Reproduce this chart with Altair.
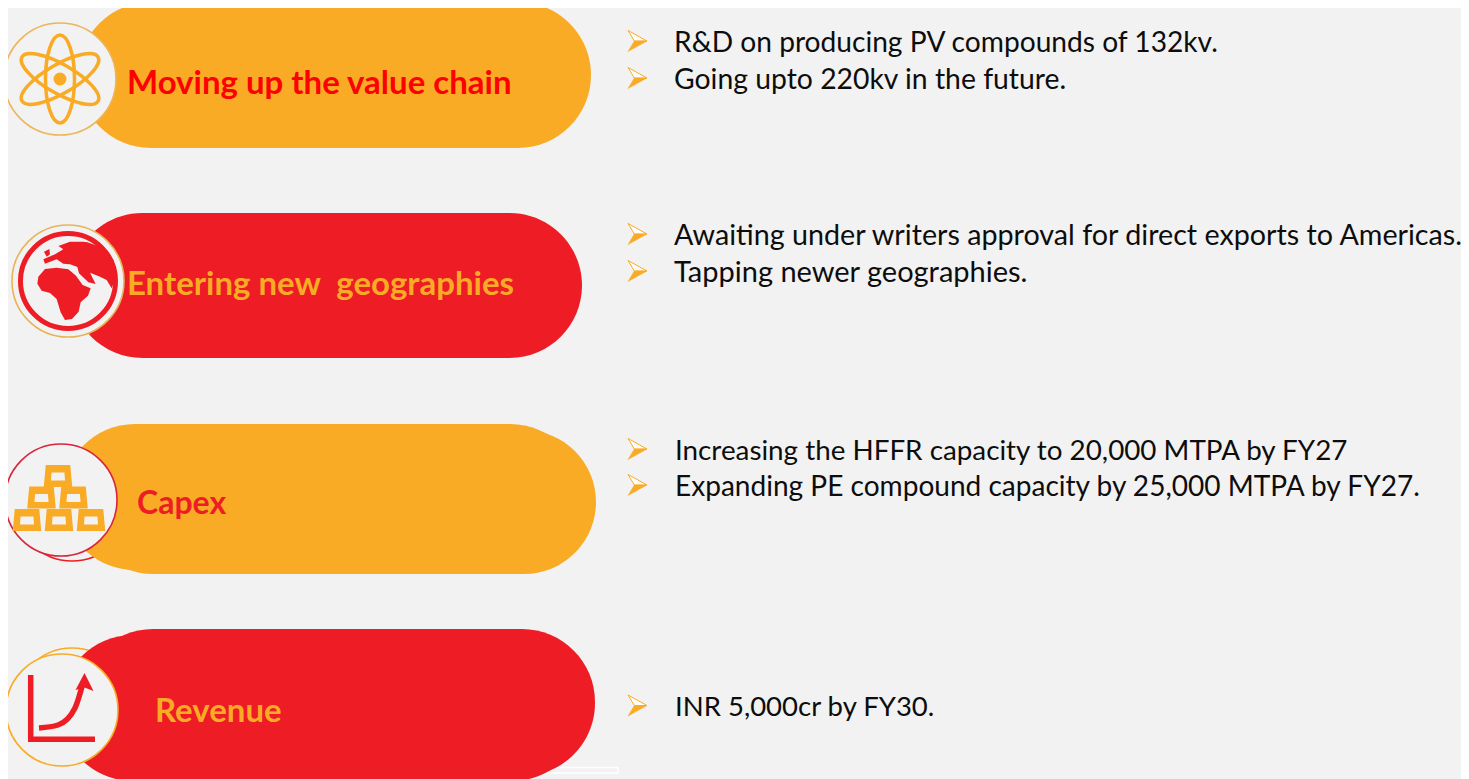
import altair as alt
import pandas as pd

# ---- content ----
TITLES = ["Moving up the value chain", "Entering new\u00a0 geographies", "Capex", "Revenue"]
BULLETS = [
    "R&D on producing PV compounds of 132kv.",
    "Going upto 220kv in the future.",
    "Awaiting under writers approval for direct exports to Americas.",
    "Tapping newer geographies.",
    "Increasing the HFFR capacity to 20,000 MTPA by FY27",
    "Expanding PE compound capacity by 25,000 MTPA by FY27.",
    "INR 5,000cr by FY30.",
]

# ---- layout (separate from the content above) ----
ORANGE, RED, BG = "#F9AB25", "#EE1C25", "#F2F2F2"
TITLE_X = [127, 127, 137, 155]
TITLE_Y = [94, 295, 514, 722]
TITLE_FS = [33, 33, 32, 33]
TITLE_COLOR = ["#FF0000", ORANGE, RED, ORANGE]
BULLET_TEXT_X = [674, 674, 674, 674, 675, 675, 675]
BULLET_Y = [52, 89, 245, 282, 460, 496, 716]
BULLET_FS = [28.15, 28.35, 28.7, 29, 27.8, 28.05, 27.5]
ARROW_Y = [41, 78, 234, 271, 449, 485, 705.5]
PILL_X = [78, 70, 62, 81, 60, 80]
PILL_X2 = [591, 582, 583, 596, 585, 595]
PILL_Y = [2, 213, 424, 430, 635, 629]
PILL_Y2 = [148, 358, 570, 574, 781, 776]
PILL_C = [ORANGE, RED, ORANGE, ORANGE, RED, RED]

X = alt.Scale(domain=[8, 1461], nice=False, zero=False)
Y = alt.Scale(domain=[779, 8], nice=False, zero=False)


def sym(xs, ys, sizes, shape, angles=None, **mark):
    d = pd.DataFrame({"x": xs, "y": ys, "s": [v * v for v in sizes]})
    enc = dict(
        x=alt.X("x:Q", scale=X, axis=None),
        y=alt.Y("y:Q", scale=Y, axis=None),
        size=alt.Size("s:Q", scale=None, legend=None),
    )
    if angles is not None:
        d["a"] = angles
        enc["angle"] = alt.Angle("a:Q", scale=None)
    return alt.Chart(d).mark_point(shape=shape, opacity=1, **mark).encode(**enc)


def poly(verts, cx, cy, ext):
    """closed path from picture-space vertices, normalised about (cx, cy)"""
    pts = [f"{(a - cx) / (ext / 2):.3f},{(b - cy) / (ext / 2):.3f}" for a, b in verts]
    return "M" + " L".join(pts) + " Z"


def line(xs, ys, color, width, interp="linear"):
    d = pd.DataFrame({"x": xs, "y": ys, "o": range(len(xs))})
    return alt.Chart(d).mark_line(color=color, strokeWidth=width, interpolate=interp, strokeCap="butt").encode(
        x=alt.X("x:Q", scale=X, axis=None), y=alt.Y("y:Q", scale=Y, axis=None), order="o:Q")


pills = alt.Chart(pd.DataFrame({"x": PILL_X, "x2": PILL_X2, "y": PILL_Y, "y2": PILL_Y2, "c": PILL_C})).mark_rect(
    cornerRadius=73).encode(
    x=alt.X("x:Q", scale=X, axis=None), x2="x2:Q",
    y=alt.Y("y:Q", scale=Y, axis=None), y2="y2:Q",
    color=alt.Color("c:N", scale=None, legend=None))

ring_kw = dict(filled=True, fill=BG, strokeWidth=1.6)
back = [
    sym([72], [505], [112], "circle", filled=False, stroke=RED, strokeWidth=1.5),
    sym([72], [704], [112], "circle", filled=False, stroke=ORANGE, strokeWidth=1.5),
]
circles = [
    sym([60], [79], [112], "circle", stroke="#EDB45A", **ring_kw),
    sym([68], [281], [112], "circle", stroke="#E9B355", **ring_kw),
    sym([61], [500], [112], "circle", stroke="#D8243C", **ring_kw),
    sym([62], [710], [112], "circle", stroke=ORANGE, **ring_kw),
]

# atom icon
ELLIPSE = "M-1,0 A1,0.33 0 1 0 1,0 A1,0.33 0 1 0 -1,0 Z"
atom = [
    sym([60, 60, 60], [79, 79, 79], [88, 88, 88], ELLIPSE, angles=[90, 30, 150],
        filled=False, stroke=ORANGE, strokeWidth=3.5),
    sym([60], [79], [13], "circle", filled=True, fill=ORANGE, strokeWidth=0),
]

# globe icon
AFRICA = [(115, 215), (135, 192), (170, 188), (205, 193), (228, 212), (248, 240), (272, 250), (264, 272),
          (242, 292), (236, 320), (216, 342), (195, 345), (182, 322), (170, 282), (150, 264), (125, 257), (112, 236)]
EURASIA = [(262, 112), (300, 125), (340, 165), (347, 220), (335, 250), (320, 225), (300, 215), (270, 203),
           (287, 237), (265, 232), (237, 205), (232, 186), (210, 178), (190, 176), (170, 163), (135, 176),
           (130, 163), (165, 148), (190, 133), (175, 123), (210, 110), (250, 110)]
ISLE = [(132, 140), (148, 132), (150, 148), (140, 155)]
to_px = lambda v: [(a / 3, 205 + b / 3) for a, b in v]
GEXT = 100
globe = [sym([68], [281], [95], "circle", filled=False, stroke=RED, strokeWidth=5)]
for shape in (AFRICA, EURASIA, ISLE):
    globe.append(sym([68], [281], [GEXT], poly(to_px(shape), 68, 281, GEXT), filled=True, fill=RED, strokeWidth=0))

# gold bars icon
BAR = "M-0.86,-0.78 L0.86,-0.78 L1,0.78 L-1,0.78 Z"
BARS_X = [58, 41.5, 73.5, 27, 59, 91]
BARS_Y = [476, 497.5, 497.5, 520, 520, 520]
gold = [
    sym(BARS_X, BARS_Y, [28.5] * 6, BAR, filled=True, fill=ORANGE, strokeWidth=0),
    sym(BARS_X, [v + 0.5 for v in BARS_Y], [14] * 6,
        "M-0.92,-0.58 L0.92,-0.58 L1,0.58 L-1,0.58 Z", filled=True, fill=BG, strokeWidth=0),
]

# growth icon
growth = [
    line([30.7, 30.7], [675, 742], RED, 5.5),
    line([28, 95], [739.3, 739.3], RED, 5.5),
    line([39, 58, 75, 83], [728, 725, 708, 683], RED, 5.5, "monotone"),
    sym([84.5], [682], [18], "M-1,0.9 L0,-1 L1,1 L0,0.6 Z", filled=True, fill=RED, strokeWidth=0),
]

# arrow bullets
UP = "M-0.9,-1 L0.9,0 L-0.3,0 Z"
DOWN = "M-0.9,1 L0.9,0 L-0.3,0 Z"
AX = [637.5] * len(ARROW_Y)
arrows = [
    sym(AX, ARROW_Y, [21] * 7, UP, filled=True, fill="#FFFFFF", stroke=ORANGE, strokeWidth=1),
    sym(AX, ARROW_Y, [21] * 7, DOWN, filled=True, fill=ORANGE, stroke=ORANGE, strokeWidth=0.5),
]

titles = alt.Chart(pd.DataFrame({"x": TITLE_X, "y": TITLE_Y, "t": TITLES, "c": TITLE_COLOR, "f": TITLE_FS})).mark_text(
    align="left", baseline="alphabetic", font="Lato", fontWeight="bold").encode(
    x=alt.X("x:Q", scale=X, axis=None), y=alt.Y("y:Q", scale=Y, axis=None), text="t:N",
    size=alt.Size("f:Q", scale=None, legend=None),
    color=alt.Color("c:N", scale=None, legend=None))

body = alt.Chart(pd.DataFrame({"x": BULLET_TEXT_X, "y": BULLET_Y, "t": BULLETS, "f": BULLET_FS})).mark_text(
    align="left", baseline="alphabetic", font="Lato", color="#0D0D0D").encode(
    x=alt.X("x:Q", scale=X, axis=None), y=alt.Y("y:Q", scale=Y, axis=None), text="t:N",
    size=alt.Size("f:Q", scale=None, legend=None))

strip = alt.Chart(pd.DataFrame({"x": [530], "x2": [618], "y": [767.5], "y2": [773]})).mark_rect(
    fill=BG, stroke="#FFFFFF", strokeWidth=1.5).encode(
    x=alt.X("x:Q", scale=X, axis=None), x2="x2:Q", y=alt.Y("y:Q", scale=Y, axis=None), y2="y2:Q")

layers = [strip] + back + [pills] + circles + atom + globe + gold + growth + arrows + [titles, body]

chart = alt.layer(*layers).properties(
    width=1453, height=771, padding=0, background=BG,
    autosize=alt.AutoSizeParams(type="none", contains="padding"),
).configure_view(stroke=None)

chart.save("out.html", embed_options={"renderer": "svg", "actions": False})
